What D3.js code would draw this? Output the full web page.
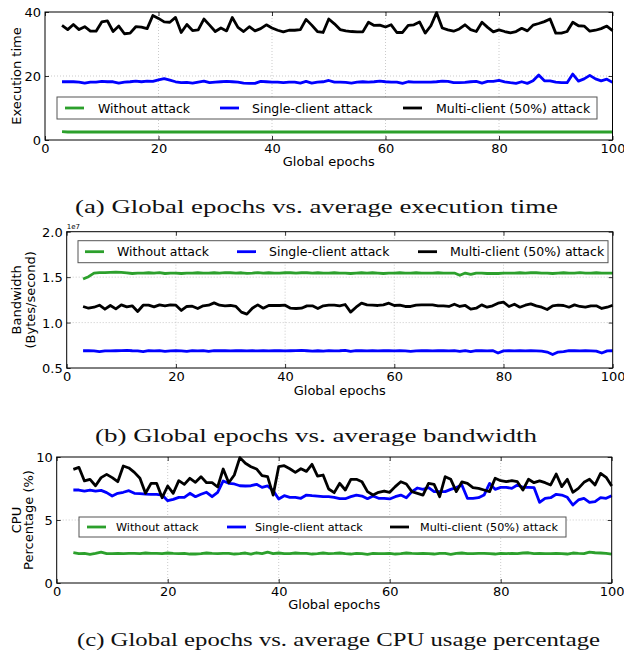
<!DOCTYPE html>
<html>
<head>
<meta charset="utf-8">
<script src="https://cdn.jsdelivr.net/npm/d3@7"></script>
<style>
  body { margin: 0; background: #fff; }
  svg { display: block; }
</style>
</head>
<body>
<div id="chart"></div>
<script>
// ---- data ----
const epochs = [3,4,5,6,7,8,9,10,11,12,13,14,15,16,17,18,19,20,21,22,23,24,25,26,27,28,29,30,31,32,33,34,35,36,37,38,39,40,
  41,42,43,44,45,46,47,48,49,50,51,52,53,54,55,56,57,58,59,60,61,62,63,64,65,66,67,68,69,70,71,72,73,74,75,76,77,78,79,80,
  81,82,83,84,85,86,87,88,89,90,91,92,93,94,95,96,97,98,99,100];

const seriesNames = ["Without attack", "Single-client attack", "Multi-client (50%) attack"];
const seriesColors = ["#2ca02c", "#0000ff", "#000000"];
const xTicks = [0, 20, 40, 60, 80, 100];

// (a) execution time
const execWithout = [2.6,2.5,2.5,2.5,2.5,2.5,2.5,2.5,2.5,2.5,2.5,2.5,2.5,2.5,2.5,2.5,2.5,2.5,2.5,2.5,2.5,2.5,2.5,2.5,2.5,2.5,2.5,2.5,2.5,2.5,2.5,2.5,2.5,2.5,2.5,2.5,2.5,2.5,
  2.5,2.5,2.5,2.5,2.5,2.5,2.5,2.5,2.5,2.5,2.5,2.5,2.5,2.5,2.5,2.5,2.5,2.5,2.5,2.5,2.5,2.5,2.5,2.5,2.5,2.5,2.5,2.5,2.5,2.5,2.5,2.5,2.5,2.5,2.5,2.5,2.5,2.5,2.5,2.5,
  2.5,2.5,2.5,2.5,2.5,2.5,2.5,2.5,2.5,2.5,2.5,2.5,2.5,2.5,2.5,2.5,2.5,2.5,2.5,2.5];
const execSingle = [18.2,18.2,18.2,18.1,17.8,18.1,18.1,18.3,18.2,18.2,17.8,18.1,18.2,18.4,18.2,18.4,18.3,18.8,19.2,18.7,18.2,17.9,18.0,17.8,18.1,18.4,17.9,18.1,18.2,18.3,18.2,18.1,17.8,17.7,17.7,18.3,18.2,18.1,
  18.1,17.9,18.1,18.1,17.8,18.3,17.8,18.1,18.2,18.6,18.1,18.1,18.0,17.8,18.1,18.2,18.1,18.2,18.4,18.2,18.1,18.1,17.7,18.2,18.1,18.1,18.1,18.1,18.2,18.4,18.3,17.9,17.9,18.0,18.2,18.3,17.8,18.3,18.3,18.6,
  18.2,17.9,17.7,18.2,17.7,18.5,20.3,18.5,18.5,18.1,17.9,17.9,20.6,18.4,19.1,20.2,19.1,18.5,19.0,18.0];
const execMulti = [35.8,34.5,36.1,34.5,35.4,34.0,34.0,36.9,37.2,33.9,35.6,33.2,33.4,35.4,35.3,34.8,38.9,38.0,36.9,36.8,38.3,33.6,36.1,34.2,34.4,37.8,35.9,33.9,35.0,34.1,38.3,35.2,33.9,35.4,34.1,34.8,36.0,35.0,
  34.3,33.8,34.3,34.3,34.5,37.7,35.9,33.9,33.6,37.8,36.3,34.5,34.1,33.9,33.8,33.8,36.8,35.8,35.9,35.3,36.0,33.6,33.6,35.8,36.0,36.9,33.4,35.7,39.8,35.0,34.4,34.0,34.7,36.0,34.5,33.9,36.8,35.2,33.8,34.4,
  33.9,33.5,33.9,34.9,34.1,35.9,36.4,37.0,37.8,33.4,33.4,33.9,36.8,35.7,35.6,34.0,34.3,34.8,35.6,34.2];

// (b) bandwidth, in units of 1e7 bytes/second
const bwWithout = [1.48,1.505,1.545,1.55,1.55,1.552,1.555,1.553,1.548,1.54,1.545,1.545,1.548,1.545,1.55,1.54,1.545,1.545,1.54,1.545,1.545,1.548,1.545,1.545,1.548,1.545,1.55,1.548,1.545,1.548,1.542,1.545,1.55,1.545,1.548,1.545,1.545,1.548,
  1.548,1.545,1.548,1.548,1.545,1.548,1.545,1.545,1.548,1.545,1.545,1.54,1.545,1.548,1.545,1.548,1.545,1.54,1.545,1.545,1.548,1.545,1.545,1.548,1.545,1.545,1.545,1.548,1.545,1.545,1.545,1.52,1.545,1.53,1.545,1.545,1.54,1.54,1.54,1.545,
  1.545,1.545,1.548,1.545,1.548,1.548,1.545,1.545,1.54,1.545,1.548,1.545,1.545,1.55,1.545,1.545,1.548,1.545,1.545,1.545];
const bwSingle = [0.69,0.69,0.688,0.68,0.688,0.688,0.69,0.692,0.695,0.69,0.688,0.68,0.692,0.688,0.69,0.682,0.688,0.692,0.688,0.682,0.69,0.688,0.69,0.682,0.69,0.692,0.69,0.688,0.692,0.69,0.688,0.69,0.688,0.692,0.688,0.69,0.692,0.688,
  0.69,0.692,0.694,0.69,0.685,0.69,0.685,0.692,0.688,0.69,0.694,0.682,0.69,0.69,0.688,0.69,0.688,0.69,0.692,0.688,0.69,0.688,0.682,0.688,0.69,0.692,0.688,0.69,0.69,0.688,0.69,0.682,0.692,0.68,0.69,0.69,0.688,0.692,0.665,0.688,
  0.69,0.688,0.69,0.688,0.69,0.688,0.685,0.675,0.648,0.675,0.68,0.69,0.69,0.688,0.69,0.688,0.685,0.665,0.688,0.69];
const bwMulti = [1.177,1.158,1.169,1.191,1.147,1.188,1.151,1.195,1.173,1.184,1.122,1.191,1.191,1.173,1.195,1.184,1.195,1.191,1.133,1.177,1.180,1.155,1.184,1.191,1.217,1.191,1.184,1.188,1.177,1.115,1.093,1.158,1.195,1.158,1.188,1.188,1.188,1.191,
  1.158,1.155,1.158,1.184,1.184,1.155,1.184,1.191,1.191,1.184,1.199,1.115,1.169,1.213,1.195,1.191,1.188,1.195,1.213,1.188,1.191,1.177,1.177,1.191,1.195,1.195,1.195,1.184,1.184,1.177,1.202,1.177,1.188,1.147,1.158,1.195,1.169,1.184,1.213,1.224,
  1.177,1.202,1.169,1.191,1.206,1.184,1.169,1.144,1.184,1.191,1.188,1.169,1.195,1.177,1.169,1.184,1.184,1.155,1.169,1.191];

// (c) CPU percentage
const cpuWithout = [2.41,2.33,2.35,2.28,2.35,2.45,2.33,2.33,2.35,2.33,2.35,2.35,2.33,2.38,2.35,2.35,2.33,2.38,2.35,2.33,2.35,2.3,2.3,2.33,2.38,2.35,2.33,2.35,2.35,2.3,2.33,2.38,2.3,2.4,2.33,2.45,2.33,2.38,
  2.33,2.33,2.38,2.35,2.35,2.3,2.33,2.38,2.33,2.35,2.38,2.33,2.3,2.35,2.33,2.28,2.35,2.33,2.33,2.35,2.3,2.33,2.38,2.35,2.33,2.35,2.33,2.3,2.35,2.35,2.28,2.35,2.38,2.33,2.33,2.35,2.35,2.33,2.3,2.35,
  2.33,2.35,2.33,2.38,2.4,2.33,2.35,2.33,2.33,2.35,2.33,2.3,2.38,2.35,2.33,2.45,2.4,2.38,2.35,2.3];
const cpuSingle = [7.38,7.38,7.30,7.38,7.30,7.35,7.17,6.90,7.12,7.20,7.33,7.12,7.09,7.06,7.04,7.04,6.98,6.53,6.64,6.80,6.80,7.12,6.85,7.04,7.20,6.85,7.20,8.10,7.91,7.86,7.72,7.70,7.72,7.83,7.59,7.70,7.33,6.67,
  6.93,6.80,6.80,6.72,6.98,6.93,6.90,6.85,6.85,6.80,6.69,6.69,6.85,6.98,6.90,6.69,6.90,6.72,6.72,6.67,6.85,6.98,6.77,7.25,7.54,7.43,7.57,7.25,7.25,7.25,7.43,7.57,7.78,6.72,6.72,6.77,6.98,7.91,7.43,7.59,
  7.59,7.51,7.78,7.59,7.59,7.57,6.40,6.72,6.77,7.04,6.98,6.80,6.19,6.59,6.72,6.40,6.46,6.77,6.72,6.93];
const cpuMulti = [9.02,9.18,8.10,8.23,7.72,8.36,8.62,8.36,8.04,9.29,9.13,8.78,8.31,7.12,7.91,7.91,6.77,7.70,7.12,8.12,7.83,8.31,7.99,8.44,7.96,7.96,7.62,9.05,7.96,8.57,9.95,9.50,9.23,9.05,8.52,8.44,6.98,9.23,
  9.31,9.07,8.78,9.07,8.86,9.42,8.49,8.57,7.46,7.17,7.91,7.38,8.23,8.23,8.04,7.25,6.98,7.20,7.30,7.20,7.65,8.04,7.86,7.25,7.12,6.98,7.91,7.83,6.85,8.44,8.23,7.25,8.02,7.91,7.57,7.51,7.38,7.25,8.31,8.12,
  8.04,8.12,8.04,7.38,8.23,7.96,8.10,7.96,7.78,8.65,7.65,8.23,7.20,7.51,7.99,8.23,7.78,8.70,8.39,7.70];

const captions = [
  "(a) Global epochs vs. average execution time",
  "(b) Global epochs vs. average bandwidth",
  "(c) Global epochs vs. average CPU usage percentage"
];

// ---- layout ----
const W = 624, H = 657;
const svg = d3.select("#chart").append("svg").attr("width", W).attr("height", H);
const sans = "'DejaVu Sans', sans-serif";

const panels = [
  {
    box: {l: 45, r: 612.5, t: 12, b: 140},
    yDomain: [0, 40], yTicks: [0, 20, 40], yFmt: d3.format("d"),
    series: [execWithout, execSingle, execMulti],
    yLabel: [{text: "Execution time", x: 21.3}],
    xLabelY: 166,
    legend: {x: 57, y: 97, w: 540, h: 22, fs: 12.5, lineX: [8, 163, 346], textX: [41, 195, 379]},
    cap: {x0: 75, x1: 558, y: 213}
  },
  {
    box: {l: 66.7, r: 612.7, t: 231.7, b: 368},
    yDomain: [0.5, 2.0], yTicks: [0.5, 1.0, 1.5, 2.0], yFmt: d3.format(".1f"),
    series: [bwWithout, bwSingle, bwMulti],
    yLabel: [{text: "Bandwidth", x: 21.3}, {text: "(Bytes/second)", x: 35.3}],
    xLabelY: 395,
    offsetText: "1e7",
    legend: {x: 78, y: 240.7, w: 530, h: 22, fs: 12.5, lineX: [7, 159, 340], textX: [39, 191, 372]},
    cap: {x0: 95, x1: 537, y: 442}
  },
  {
    box: {l: 56.7, r: 611.7, t: 457, b: 583},
    yDomain: [0, 10], yTicks: [0, 5, 10], yFmt: d3.format("d"),
    series: [cpuWithout, cpuSingle, cpuMulti],
    yLabel: [{text: "CPU", x: 20.5}, {text: "Percentage (%)", x: 32.8}],
    xLabelY: 609,
    legend: {x: 79, y: 517, w: 487, h: 20, fs: 11.2, lineX: [8, 148, 311], textX: [37, 176, 341]},
    cap: {x0: 77, x1: 600, y: 646}
  }
];

panels.forEach((p, pi) => {
  const {l, r, t, b} = p.box;
  const x = d3.scaleLinear().domain([0, 100]).range([l, r]);
  const y = d3.scaleLinear().domain(p.yDomain).range([b, t]);
  const g = svg.append("g");

  // dotted grid
  g.append("g").selectAll("line").data(xTicks.filter(d => d > 0 && d < 100)).join("line")
    .attr("x1", d => x(d)).attr("x2", d => x(d)).attr("y1", t).attr("y2", b)
    .attr("stroke", "#b5b5b5").attr("stroke-width", 0.7).attr("stroke-dasharray", "1,2");
  g.append("g").selectAll("line").data(p.yTicks.filter(d => d > p.yDomain[0] && d < p.yDomain[1])).join("line")
    .attr("x1", l).attr("x2", r).attr("y1", d => y(d)).attr("y2", d => y(d))
    .attr("stroke", "#b5b5b5").attr("stroke-width", 0.7).attr("stroke-dasharray", "1,2");

  // lines
  const line = d3.line().x((d, i) => x(epochs[i])).y(d => y(d));
  p.series.forEach((s, i) => {
    g.append("path").datum(s)
      .attr("d", line)
      .attr("fill", "none")
      .attr("stroke", seriesColors[i])
      .attr("stroke-width", 2.8)
      .attr("stroke-linejoin", "round");
  });

  // axes (ticks inside)
  const xAx = g.append("g").attr("transform", `translate(0,${b})`)
    .call(d3.axisBottom(x).tickValues(xTicks).tickSize(-4).tickPadding(3).tickFormat(d3.format("d")));
  const xTop = g.append("g").attr("transform", `translate(0,${t})`)
    .call(d3.axisTop(x).tickValues(xTicks).tickSize(-4).tickFormat(""));
  const yAx = g.append("g").attr("transform", `translate(${l},0)`)
    .call(d3.axisLeft(y).tickValues(p.yTicks).tickSize(-4).tickPadding(4).tickFormat(p.yFmt));
  const yRight = g.append("g").attr("transform", `translate(${r},0)`)
    .call(d3.axisRight(y).tickValues(p.yTicks).tickSize(-4).tickFormat(""));
  [xAx, xTop, yAx, yRight].forEach(a => {
    a.select(".domain").remove();
    a.selectAll(".tick line").attr("stroke", "#000").attr("stroke-width", 0.8);
    a.selectAll(".tick text").attr("fill", "#000").style("font-size", "13px").style("font-family", sans);
  });
  xAx.selectAll(".tick text").attr("dy", "0").attr("y", 13);
  yAx.selectAll(".tick text").attr("x", -4).attr("dy", "0.36em");

  // frame
  g.append("rect").attr("x", l).attr("y", t).attr("width", r - l).attr("height", b - t)
    .attr("fill", "none").attr("stroke", "#000").attr("stroke-width", 1);

  if (p.offsetText) {
    g.append("text").attr("x", l).attr("y", t - 3)
      .style("font-family", sans).style("font-size", "7px").text(p.offsetText);
  }

  // axis labels
  g.append("text").attr("x", (l + r) / 2).attr("y", p.xLabelY).attr("text-anchor", "middle")
    .style("font-family", sans).style("font-size", "13px").text("Global epochs");
  p.yLabel.forEach(lb => {
    g.append("text").attr("transform", `translate(${lb.x},${(t + b) / 2}) rotate(-90)`)
      .attr("text-anchor", "middle")
      .style("font-family", sans).style("font-size", "13px").text(lb.text);
  });

  // legend
  const lg = p.legend;
  const leg = g.append("g").attr("transform", `translate(${lg.x},${lg.y})`);
  leg.append("rect").attr("width", lg.w).attr("height", lg.h)
    .attr("fill", "#fff").attr("stroke", "#555").attr("stroke-width", 1);
  seriesNames.forEach((name, i) => {
    leg.append("line").attr("x1", lg.lineX[i]).attr("x2", lg.lineX[i] + 19)
      .attr("y1", lg.h / 2).attr("y2", lg.h / 2)
      .attr("stroke", seriesColors[i]).attr("stroke-width", 2.8);
    leg.append("text").attr("x", lg.textX[i]).attr("y", lg.h / 2).attr("dy", "0.36em")
      .style("font-family", sans).style("font-size", lg.fs + "px").text(name);
  });

  // caption (serif, fitted to the span of the typeset caption)
  svg.append("text")
    .attr("x", p.cap.x0).attr("y", p.cap.y)
    .attr("textLength", p.cap.x1 - p.cap.x0).attr("lengthAdjust", "spacingAndGlyphs")
    .style("font-family", "'Liberation Serif', serif").style("font-size", "19.5px")
    .attr("fill", "#111")
    .text(captions[pi]);
});
</script>
</body>
</html>
